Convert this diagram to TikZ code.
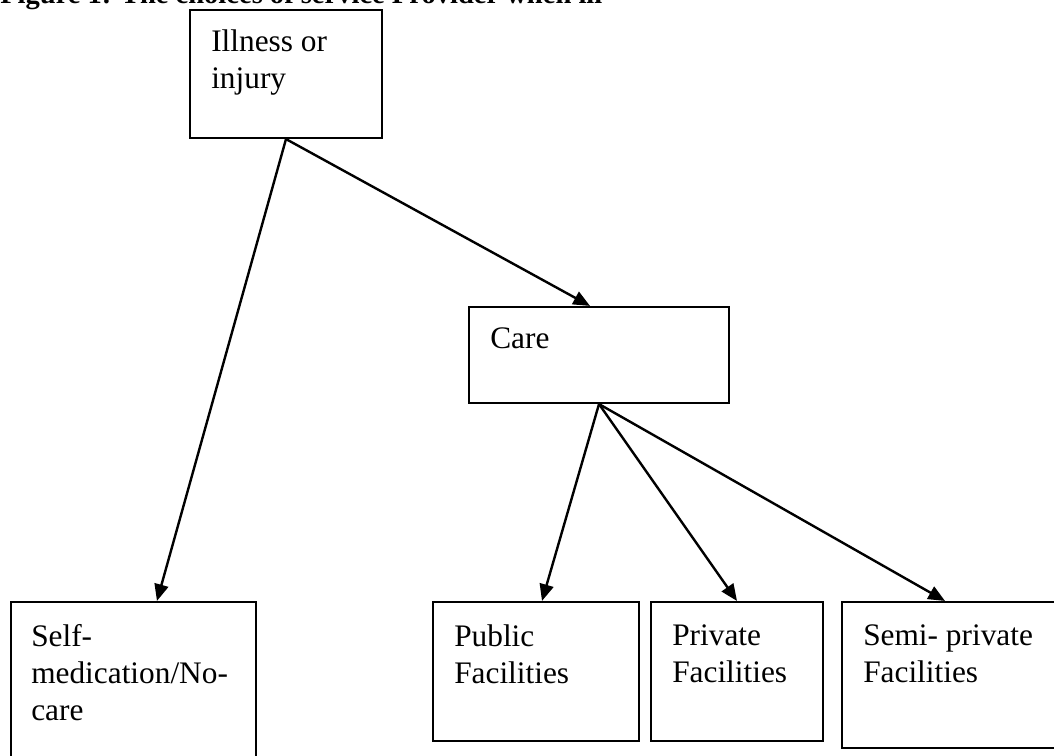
\documentclass[tikz,border=0pt]{standalone}
\usepackage{fontspec}
\setmainfont{Liberation Serif}
\usetikzlibrary{arrows.meta,fit}
\tikzset{
  box/.style={draw=black, line width=1.6pt, inner sep=0pt, rectangle},
  txt/.style={anchor=north west, inner sep=0pt, align=left,
    font=\fontsize{23.5pt}{28pt}\selectfont},
  conn/.style={line width=1.8pt, -{Triangle[length=12.5pt,width=10.5pt]}},
}
\begin{document}
\begin{tikzpicture}[x=0.75pt,y=-0.75pt]
\useasboundingbox (0,0) rectangle (1054,756);
\clip (0,0) rectangle (1054,756);
\node[anchor=base west, inner sep=0pt, font=\fontsize{21.4pt}{25pt}\selectfont\bfseries] (title) at (0,4) {Figure 1: The choices of service Provider when ill};
% boxes
\node[box, fit={(190,10) (382,138)}] (ill) {};
\node[box, fit={(469,307) (729,403)}] (care) {};
\node[box, fit={(11,602) (256,780)}] (self) {};
\node[box, fit={(433,602) (639,741)}] (pub) {};
\node[box, fit={(651,602) (823,741)}] (priv) {};
\node[box, fit={(842,602) (1070,748)}] (semi) {};
% texts
\node[txt] (illt) at (211,29) {Illness or\\injury};
\node[txt] (caret) at (490,327) {Care};
\node[txt] (selft) at (31,624) {Self-\\medication/No-\\care};
\node[txt] (pubt) at (454,624) {Public\\Facilities};
\node[txt] (privt) at (672,624) {Private\\Facilities};
\node[txt] (semit) at (863,624) {Semi- private\\Facilities};
% connectors
\draw[conn] (ill.south) -- ([xshift=17.6pt]self.north);
\draw[conn] (ill.south) -- ([xshift=-6.75pt]care.north);
\draw[conn] (care.south) -- ([xshift=4.5pt]pub.north);
\draw[conn] (care.south) -- (priv.north);
\draw[conn] (care.south) -- ([xshift=-8.25pt]semi.north);
\end{tikzpicture}
\end{document}
